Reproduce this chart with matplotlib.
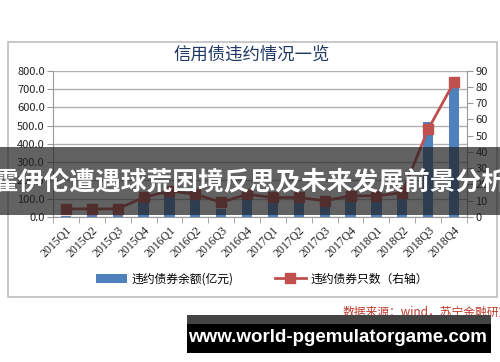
import matplotlib
matplotlib.use("Agg")
import matplotlib.pyplot as plt
from matplotlib.patches import Rectangle
import numpy as np

plt.rcParams['font.family'] = ['Noto Sans CJK SC', 'DejaVu Sans']

categories = ['2015Q1', '2015Q2', '2015Q3', '2015Q4', '2016Q1', '2016Q2', '2016Q3', '2016Q4',
              '2017Q1', '2017Q2', '2017Q3', '2017Q4', '2018Q1', '2018Q2', '2018Q3', '2018Q4']
balance = [3, 20, 20, 80, 140, 125, 45, 125, 95, 95, 55, 120, 110, 105, 520, 710]
count = [5, 5, 5, 12, 16, 14, 9, 14, 12, 12, 10, 13, 13, 15, 54, 83]
left_ticks = [0, 100, 200, 300, 400, 500, 600, 700, 800]
right_ticks = [0, 10, 20, 30, 40, 50, 60, 70, 80, 90]

title = '信用债违约情况一览'
bar_label = '违约债券余额(亿元)'
line_label = '违约债券只数（右轴）'
banner = '霍伊伦遭遇球荒困境反思及未来发展前景分析'
source = '数据来源：wind，苏宁金融研究院'
watermark = 'www.world-pgemulatorgame.com'

W, H = 500, 362
fig = plt.figure(figsize=(W / 100, H / 100), dpi=100)
fig.patch.set_facecolor('white')

def fx(px):
    return px / W

def fy(py):
    return 1 - py / H

# chart frame
fig.patches.append(Rectangle((fx(8), fy(297)), fx(489), (297 - 42) / H, transform=fig.transFigure,
                             facecolor='none', edgecolor='#BFBFBF', linewidth=1.2, zorder=-5))

ax = fig.add_axes([fx(53), fy(217), fx(467 - 53), (217 - 70.7) / H])
ax.set_facecolor('none')
x = np.arange(len(categories))
bars = ax.bar(x, balance, width=0.4, color='#4F81BD', zorder=2, label=bar_label)
ax.set_ylim(0, 800)
ax.set_yticks(left_ticks)
ax.set_yticklabels([f'{v:.1f}' for v in left_ticks], fontsize=8, color='#222222')
ax.set_xlim(-0.5, len(categories) - 0.5)
ax.set_xticks(x)
ax.set_xticklabels(categories, rotation=45, ha='right', rotation_mode='anchor', fontsize=8.5,
                   color='#222222', family='Liberation Serif')
ax.tick_params(axis='x', length=0, pad=5)
ax.set_xticks(np.arange(-0.5, len(categories), 1), minor=True)
ax.tick_params(axis='x', which='minor', length=4, color='#999999')
ax.tick_params(axis='y', length=4, color='#999999', pad=2)
ax.grid(axis='y', color='#B0B0B0', linewidth=1.0, zorder=0)
ax.set_axisbelow(True)
for s in ['top', 'right']:
    ax.spines[s].set_visible(False)
for s in ['left', 'bottom']:
    ax.spines[s].set_color('#999999')

ax2 = ax.twinx()
line, = ax2.plot(x, count, color='#C0504D', linewidth=2, marker='s', markersize=7,
                 zorder=3, label=line_label)
ax2.set_ylim(0, 90)
ax2.set_yticks(right_ticks)
ax2.set_yticklabels([str(v) for v in right_ticks], fontsize=8, color='#222222')
ax2.tick_params(axis='y', length=4, color='#999999', pad=2)
for s in ['top', 'left', 'bottom']:
    ax2.spines[s].set_visible(False)
ax2.spines['right'].set_color('#999999')

fig.text(fx(252), fy(55), title, ha='center', va='center', fontsize=12.5, color='#1F3864')

fig.legend(handles=[bars, line], labels=[bar_label, line_label], loc='center',
           bbox_to_anchor=(fx(262), fy(279)), ncol=2, frameon=False, fontsize=8.5,
           handlelength=2.6, columnspacing=3.5, handletextpad=0.4)

# overlay banner
fig.patches.append(Rectangle((0, fy(215)), 1, (215 - 147) / H, transform=fig.transFigure,
                             facecolor='#202020', alpha=0.7, edgecolor='none', zorder=10))
fig.text(0.5, fy(182), banner, ha='center', va='center', fontsize=18.5, fontweight='bold',
         color='white', zorder=11)

# source text
fig.text(fx(343), fy(312), source, ha='left', va='center', fontsize=8.5, color='#C0392B',
         style='italic', zorder=5)

# watermark box
fig.patches.append(Rectangle((fx(187), fy(353)), fx(491 - 187), (353 - 315) / H,
                             transform=fig.transFigure, facecolor='black', edgecolor='none', zorder=12))
fig.patches.append(Rectangle((fx(187), fy(324)), fx(491 - 187), (324 - 315) / H,
                             transform=fig.transFigure, facecolor='#444444', edgecolor='none', zorder=13))
fig.text(fx(338), fy(337), watermark, ha='center', va='center', fontsize=13.5, fontweight='bold',
         color='white', family='Liberation Sans', zorder=14)

fig.savefig('out.png', dpi=100)
